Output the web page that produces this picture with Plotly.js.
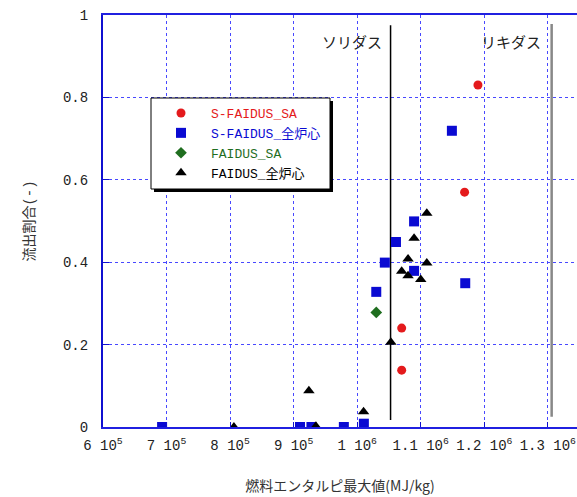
<!DOCTYPE html>
<html>
<head>
<meta charset="utf-8">
<script src="https://cdn.plot.ly/plotly-3.0.1.min.js"></script>
<style>html,body{margin:0;padding:0;background:#fff;}#chart{width:577px;height:497px;}</style>
</head>
<body>
<div id="chart"></div>
<script>
// ---- data ----
const sfaidusSA_x = [1.190e6, 1.169e6, 1.070e6, 1.070e6];
const sfaidusSA_y = [0.830, 0.570, 0.240, 0.138];

const sfaidusCore_x = [6.93e5, 9.10e5, 9.28e5, 9.79e5, 1.0105e6, 1.030e6, 1.0435e6, 1.061e6, 1.0895e6, 1.0895e6, 1.149e6, 1.170e6];
const sfaidusCore_y = [0.0, 0.0, 0.0, 0.0, 0.008, 0.328, 0.399, 0.449, 0.499, 0.379, 0.719, 0.349];

const faidusSA_x = [1.030e6];
const faidusSA_y = [0.278];

const faidusCore_x = [8.06e5, 9.24e5, 9.35e5, 1.010e6, 1.053e6, 1.070e6, 1.080e6, 1.080e6, 1.0895e6, 1.100e6, 1.1095e6, 1.1095e6];
const faidusCore_y = [0.0, 0.088, 0.002, 0.037, 0.206, 0.378, 0.408, 0.367, 0.458, 0.358, 0.519, 0.398];

const solidus = 1.0525e6;
const liquidus = 1.306e6;
const solidusY = [0.017, 0.975];
const liquidusY = [0.025, 0.978];

const xTickVals = [6e5, 7e5, 8e5, 9e5, 1.0e6, 1.1e6, 1.2e6, 1.3e6];
const xTickText = ["6 10<sup>5</sup>", "7 10<sup>5</sup>", "8 10<sup>5</sup>", "9 10<sup>5</sup>",
                   "1 10<sup>6</sup>", "1.1 10<sup>6</sup>", "1.2 10<sup>6</sup>", "1.3 10<sup>6</sup>"];

const seriesNames = ["S-FAIDUS_SA", "S-FAIDUS_全炉心", "FAIDUS_SA", "FAIDUS_全炉心"];
const seriesColors = ["#e41a1c", "#0a0ad2", "#1f6e1f", "#000000"];

// ---- chart ----
const monoFont = "'Liberation Mono', 'DejaVu Sans Mono', 'Noto Sans CJK JP', monospace";
const cjkFont = "'Noto Sans CJK JP', 'DejaVu Sans', sans-serif";

function nm(i) { return '<span style="color:' + seriesColors[i] + '">' + seriesNames[i] + '</span>'; }

const traces = [
  {x: [solidus, solidus], y: solidusY, mode: 'lines', line: {color: '#000', width: 1.5}, showlegend: false, hoverinfo: 'skip'},
  {x: [liquidus, liquidus], y: liquidusY, mode: 'lines', line: {color: '#888', width: 2.5}, showlegend: false, hoverinfo: 'skip'},
  {x: sfaidusSA_x, y: sfaidusSA_y, mode: 'markers', name: nm(0),
   marker: {symbol: 'circle', size: 9, color: seriesColors[0]}},
  {x: sfaidusCore_x, y: sfaidusCore_y, mode: 'markers', name: nm(1),
   marker: {symbol: 'square', size: 10, color: seriesColors[1]}},
  {x: faidusSA_x, y: faidusSA_y, mode: 'markers', name: nm(2),
   marker: {symbol: 'diamond', size: 9, color: seriesColors[2]}},
  {x: faidusCore_x, y: faidusCore_y, mode: 'markers', name: nm(3),
   marker: {symbol: 'triangle-up', size: 10, color: seriesColors[3]}}
];

const L = 103, R = 0, T = 15, B = 70, W = 577, H = 497;
const pw = W - L - R, ph = H - T - B;
function px2paperX(p) { return (p - L) / pw; }
function px2paperY(p) { return (H - B - p) / ph; }

// legend frame (box + drop shadow) in pixels
const box = {l: 151, t: 98, r: 330, b: 189};
const sh = 3;

const layout = {
  width: W, height: H,
  margin: {l: L, r: R, t: T, b: B},
  paper_bgcolor: '#fff', plot_bgcolor: '#fff',
  font: {family: monoFont, size: 14, color: '#222'},
  showlegend: true,
  xaxis: {
    range: [6e5, 6e5 + pw / 63.55 * 1e5],
    tickvals: xTickVals, ticktext: xTickText,
    showgrid: true, gridcolor: '#4848ff', griddash: 'dot', gridwidth: 1,
    showline: true, linecolor: '#2020e0', linewidth: 2, mirror: true,
    ticks: 'inside', ticklen: 5, tickcolor: '#1010d0',
    zeroline: false,
    tickfont: {family: monoFont, size: 14, color: '#222'},
    ticklabelstandoff: 4,
    title: {text: '燃料エンタルピ最大値(MJ/kg)', font: {family: cjkFont, size: 14, color: '#333'}, standoff: 28}
  },
  yaxis: {
    range: [0, 1], dtick: 0.2, tick0: 0,
    showgrid: true, gridcolor: '#4848ff', griddash: 'dot', gridwidth: 1,
    showline: true, linecolor: '#1010d0', linewidth: 2, mirror: false,
    ticks: 'inside', ticklen: 6, tickcolor: '#1010d0',
    zeroline: false,
    tickfont: {family: monoFont, size: 14, color: '#222'},
    ticklabelstandoff: 10,
    title: {text: '流出割合(-)', font: {family: monoFont, size: 14, color: '#333'}, standoff: 25}
  },
  legend: {
    x: px2paperX(box.l), y: px2paperY(box.t), xanchor: 'left', yanchor: 'top',
    bgcolor: 'rgba(0,0,0,0)', bordercolor: 'rgba(0,0,0,0)', borderwidth: 0,
    font: {family: monoFont, size: 13, color: '#222'},
    itemwidth: 50, tracegroupgap: 0
  },
  shapes: [
    {type: 'rect', xref: 'paper', yref: 'paper', layer: 'above',
     x0: px2paperX(box.l + sh), x1: px2paperX(box.r + sh), y0: px2paperY(box.b + sh), y1: px2paperY(box.t + sh),
     fillcolor: '#000', line: {width: 0}},
    {type: 'rect', xref: 'paper', yref: 'paper', layer: 'above',
     x0: px2paperX(box.l), x1: px2paperX(box.r), y0: px2paperY(box.b), y1: px2paperY(box.t),
     fillcolor: '#fff', line: {color: '#000', width: 1}}
  ],
  annotations: [
    {x: solidus, y: 0.935, xref: 'x', yref: 'y', text: 'ソリダス', showarrow: false,
     xanchor: 'right', xshift: -7, font: {family: cjkFont, size: 15, color: '#222'}},
    {x: liquidus, y: 0.935, xref: 'x', yref: 'y', text: 'リキダス', showarrow: false,
     xanchor: 'right', xshift: -9, font: {family: cjkFont, size: 15, color: '#222'}}
  ]
};

Plotly.newPlot('chart', traces, layout, {staticPlot: true, displayModeBar: false});
</script>
</body>
</html>
